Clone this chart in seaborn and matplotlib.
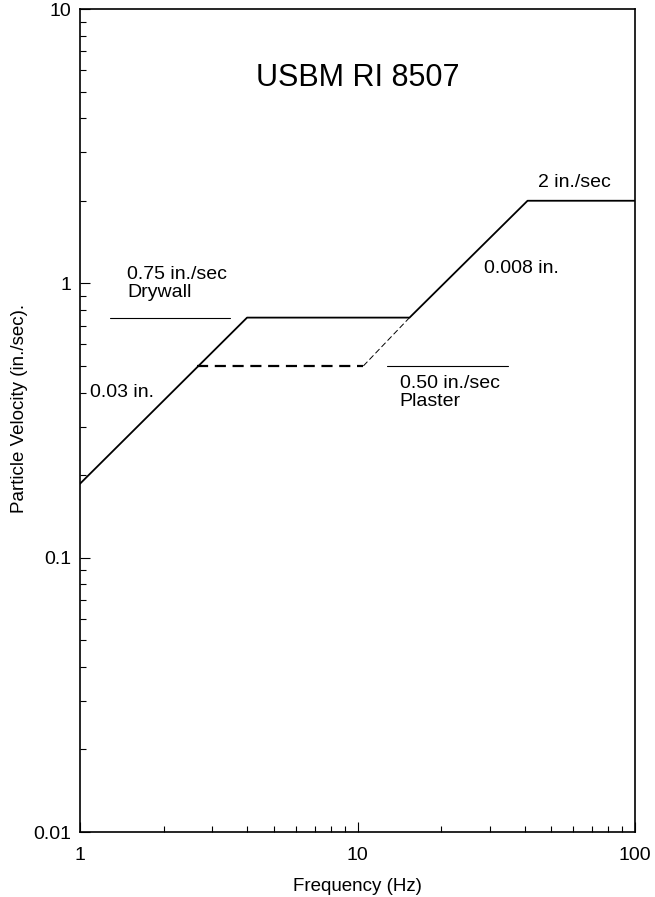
import pandas as pd
import seaborn as sns
import matplotlib.pyplot as plt
from matplotlib.ticker import FixedLocator, NullFormatter, LogLocator

# Datos (frecuencia en Hz, velocidad en in./sec)
freq_main = [1.0, 4.0, 15.4, 41.0, 100.0]
vel_main = [0.186, 0.75, 0.75, 2.0, 2.0]

freq_plaster = [2.65, 10.5]
vel_plaster = [0.5, 0.5]

freq_join = [10.5, 15.4]
vel_join = [0.5, 0.75]

freq_drywall_ref = [1.28, 3.47]
vel_drywall_ref = [0.75, 0.75]

freq_plaster_ref = [12.8, 34.9]
vel_plaster_ref = [0.5, 0.5]

sns.set_style("ticks")
plt.rcParams['font.family'] = ['Liberation Sans', 'DejaVu Sans']
plt.rcParams['text.color'] = 'black'
plt.rcParams['axes.labelcolor'] = 'black'
plt.rcParams['xtick.color'] = 'black'
plt.rcParams['ytick.color'] = 'black'
plt.rcParams['axes.edgecolor'] = 'black'

fig = plt.figure(figsize=(6.55, 8.97), dpi=100)
ax = fig.add_axes([80 / 655, 65 / 897, 555 / 655, 823 / 897])

main = pd.DataFrame({"f": freq_main, "v": vel_main})
sns.lineplot(data=main, x="f", y="v", ax=ax, color="black", lw=1.3, sort=False)
sns.lineplot(x=freq_plaster, y=vel_plaster, ax=ax, color="black", lw=1.6,
             linestyle=(0, (5, 3)))
sns.lineplot(x=freq_join, y=vel_join, ax=ax, color="black", lw=0.7,
             linestyle=(0, (6, 3)))
sns.lineplot(x=freq_drywall_ref, y=vel_drywall_ref, ax=ax, color="black", lw=0.8)
sns.lineplot(x=freq_plaster_ref, y=vel_plaster_ref, ax=ax, color="black", lw=0.8)

ax.set_xscale("log")
ax.set_yscale("log")
ax.set_xlim(1, 100)
ax.set_ylim(0.01, 10)

ax.xaxis.set_major_locator(FixedLocator([1, 10, 100]))
ax.yaxis.set_major_locator(FixedLocator([0.01, 0.1, 1, 10]))
ax.set_xticklabels(["1", "10", "100"])
ax.set_yticklabels(["0.01", "0.1", "1", "10"])
ax.xaxis.set_minor_locator(LogLocator(base=10, subs=range(2, 10)))
ax.yaxis.set_minor_locator(LogLocator(base=10, subs=range(2, 10)))
ax.xaxis.set_minor_formatter(NullFormatter())
ax.yaxis.set_minor_formatter(NullFormatter())
ax.tick_params(which="both", direction="in", labelsize=14, width=0.8,
               top=False, right=False)
ax.tick_params(axis="x", which="major", length=7, pad=11)
ax.tick_params(axis="y", which="major", length=7, pad=6)
ax.tick_params(which="minor", length=4)

for s in ax.spines.values():
    s.set_visible(True)
    s.set_linewidth(1.2)

ax.set_xlabel("Frequency (Hz)", fontsize=13.5, labelpad=10)
ax.set_ylabel("Particle Velocity (in./sec).", fontsize=13.5)
ax.yaxis.set_label_coords(-0.093, 0.515)

ax.text(10, 5.6, "USBM RI 8507", fontsize=22, ha="center", va="center")
ax.text(1.48, 1.0, "0.75 in./sec\nDrywall", fontsize=14, ha="left", va="center",
        linespacing=1.1)
ax.text(1.086, 0.40, "0.03 in.", fontsize=14, ha="left", va="center")
ax.text(28.6, 1.137, "0.008 in.", fontsize=14, ha="left", va="center")
ax.text(44.9, 2.34, "2 in./sec", fontsize=14, ha="left", va="center")
ax.text(14.2, 0.40, "0.50 in./sec\nPlaster", fontsize=14, ha="left", va="center",
        linespacing=1.1)

fig.savefig("out.png", dpi=100)
